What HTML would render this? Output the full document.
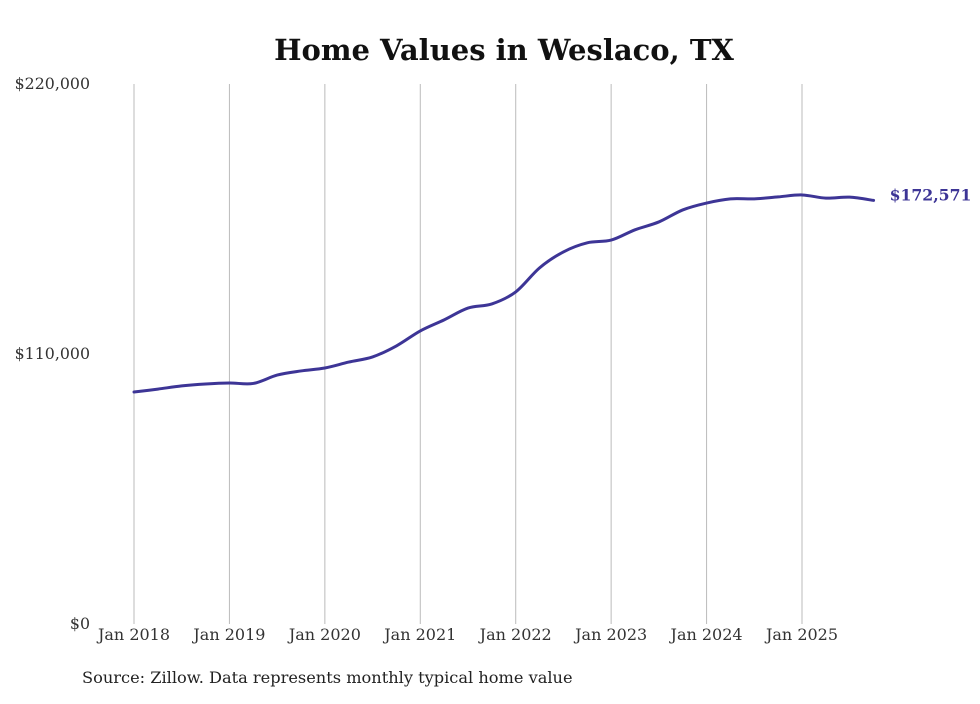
<!DOCTYPE html>
<html><head><meta charset="utf-8"><style>
body{margin:0;background:#fff;width:980px;height:699px;overflow:hidden}
svg text{font-family:"DejaVu Serif","Liberation Serif",serif}
</style></head><body>
<svg id="chart" width="980" height="699" xmlns="http://www.w3.org/2000/svg">
<text x="504" y="60" text-anchor="middle" style="font-size:29px;font-weight:bold;fill:#111">Home Values in Weslaco, TX</text>
<g id="grid"></g>
<g id="yaxis"></g>
<g id="xaxis"></g>
<path id="line" fill="none" stroke="#3d3596" stroke-width="3" stroke-linejoin="round" stroke-linecap="round"/>
<text id="endlabel" style="font-size:15.7px;font-weight:bold;fill:#3d3596"></text>
<text x="82" y="683" style="font-size:16.2px;fill:#222">Source: Zillow. Data represents monthly typical home value</text>
</svg>
<script>
const years = ["Jan 2018","Jan 2019","Jan 2020","Jan 2021","Jan 2022","Jan 2023","Jan 2024","Jan 2025"];
const yTicks = [0,110000,220000];
const yTickLabels = ["$0","$110,000","$220,000"];
// quarterly values, months offset from Jan 2018
const months = [0,3,6,9,12,15,18,21,24,27,30,33,36,39,42,45,48,51,54,57,60,63,66,69,72,75,78,81,84,87,90,93];
const values = [94500,95700,97000,97800,98200,98000,101400,103100,104300,106700,108800,113300,119400,123900,128700,130400,135300,145100,151600,155300,156400,160600,163800,168700,171500,173200,173200,174000,174800,173500,173900,172571];
const svg=document.getElementById('chart');
const NS='http://www.w3.org/2000/svg';
const x=m=>134+m*(802-134)/84;
const y=v=>624-v*(540/220000);
const grid=document.getElementById('grid'),xa=document.getElementById('xaxis'),ya=document.getElementById('yaxis');
years.forEach((t,i)=>{
 const l=document.createElementNS(NS,'line');
 
 
 l.setAttribute('x1',x(i*12));l.setAttribute('x2',x(i*12));l.setAttribute('y1',84);l.setAttribute('y2',624);
 l.setAttribute('stroke','#bbb');l.setAttribute('stroke-width','1');grid.appendChild(l);
 const tx=document.createElementNS(NS,'text');
 
 
 tx.setAttribute('x',x(i*12));tx.setAttribute('y',640);tx.setAttribute('text-anchor','middle');
 tx.setAttribute('style','font-size:16px;fill:#333');tx.textContent=t;xa.appendChild(tx);
});
yTicks.forEach((v,i)=>{
 const tx=document.createElementNS(NS,'text');
 
 
 tx.setAttribute('x',90);tx.setAttribute('y',y(v)+5);tx.setAttribute('text-anchor','end');
 tx.setAttribute('style','font-size:15.8px;fill:#333');tx.textContent=yTickLabels[i];ya.appendChild(tx);
});
const pts=months.map((m,i)=>[x(m),y(values[i])]);
let d='M'+pts[0][0]+','+pts[0][1];
for(let i=0;i<pts.length-1;i++){
 const p0=pts[Math.max(0,i-1)],p1=pts[i],p2=pts[i+1],p3=pts[Math.min(pts.length-1,i+2)];
 const c1=[p1[0]+(p2[0]-p0[0])/6,p1[1]+(p2[1]-p0[1])/6],c2=[p2[0]-(p3[0]-p1[0])/6,p2[1]-(p3[1]-p1[1])/6];
 d+=' C'+c1+' '+c2+' '+p2;
}
document.getElementById('line').setAttribute('d',d);
const el=document.getElementById('endlabel');
const last=pts[pts.length-1];
el.setAttribute('x',last[0]+16);el.setAttribute('y',last[1]);
el.textContent='$'+values[values.length-1].toLocaleString('en-US');
</script>
</body></html>
